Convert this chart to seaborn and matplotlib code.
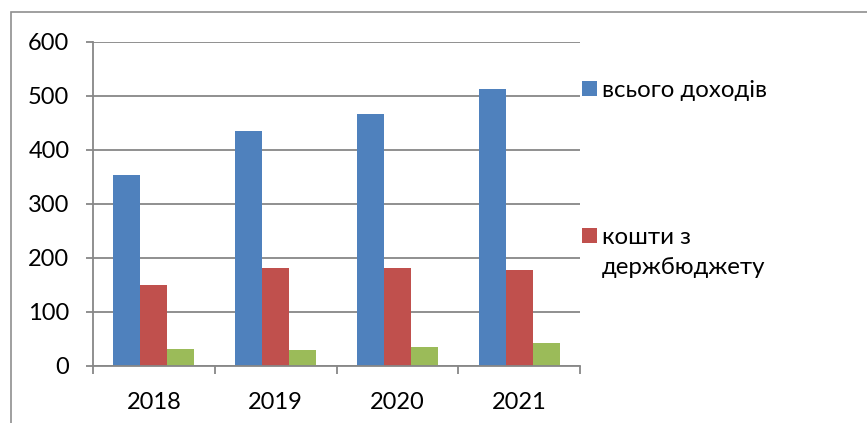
import matplotlib
matplotlib.use("Agg")
import matplotlib.pyplot as plt
import matplotlib.patches as mpatches
import seaborn as sns
import pandas as pd

years = ["2018", "2019", "2020", "2021"]
series_names = ["всього доходів", "кошти з\nдержбюджету", "інші надходження"]
total_income = [353, 435, 466, 513]
state_budget = [150, 181, 180, 177]
other_income = [31, 29, 34, 41]
colors = ["#4F81BD", "#C0504D", "#9BBB59"]
y_ticks = [0, 100, 200, 300, 400, 500, 600]

rows = []
for name, vals in zip(series_names, [total_income, state_budget, other_income]):
    for y, v in zip(years, vals):
        rows.append({"year": y, "series": name, "value": v})
df = pd.DataFrame(rows)

sns.set_theme(style="white")
plt.rcParams["font.family"] = ["Lato", "DejaVu Sans"]

fig = plt.figure(figsize=(8.67, 4.23), dpi=100)
ax = fig.add_axes([93 / 867, 1 - 365.5 / 423, (580 - 93) / 867, (365.5 - 42) / 423])

sns.barplot(data=df, x="year", y="value", hue="series", hue_order=series_names,
            order=years, palette=colors, width=0.665, gap=0, ax=ax,
            legend=False, edgecolor="none", linewidth=0, saturation=1)

grey = "#878787"
ax.set_xlim(-0.5, 3.5)
ax.set_ylim(0, 600)
ax.set_yticks(y_ticks)
ax.set_yticklabels([str(t) for t in y_ticks])
ax.set_axisbelow(True)
ax.yaxis.grid(True, color=grey, linewidth=1.3)
ax.xaxis.grid(False)
for s in ["top", "right"]:
    ax.spines[s].set_visible(False)
for s in ["left", "bottom"]:
    ax.spines[s].set_color(grey)
    ax.spines[s].set_linewidth(1.3)
ax.set_xlabel("")
ax.set_ylabel("")
ax.tick_params(axis="y", which="major", direction="out", length=5, width=1.3,
               color=grey, pad=12, labelsize=17, labelcolor="black", left=True)
ax.tick_params(axis="x", which="major", length=0, pad=19, labelsize=17,
               labelcolor="black")
ax.set_xticks([-0.5, 0.5, 1.5, 2.5, 3.5], minor=True)
ax.tick_params(axis="x", which="minor", direction="out", length=6, width=1.3,
               color=grey, bottom=True)

# outer chart border (cropped on right and bottom)
border = mpatches.Rectangle((11 / 867, -0.1), 1.2, 1 - 12 / 423 + 0.1,
                            transform=fig.transFigure, fill=False,
                            edgecolor="#8f8f8f", linewidth=1.2, clip_on=False)
fig.patches.append(border)

# legend (only two entries visible, as in the original)
sq_w, sq_h = 15 / 867, 15 / 423
legend_pos = [(582, 89), (582, 236)]
for i, (px, py) in enumerate(legend_pos):
    fig.patches.append(mpatches.Rectangle((px / 867, 1 - (py + 7.5) / 423), sq_w, sq_h,
                                          transform=fig.transFigure,
                                          facecolor=colors[i], edgecolor="none"))
    fig.text(602 / 867, 1 - (py - 9) / 423, series_names[i], fontsize=17.3,
             va="top", ha="left", linespacing=1.5, color="black")

fig.savefig("out.png", dpi=100)
